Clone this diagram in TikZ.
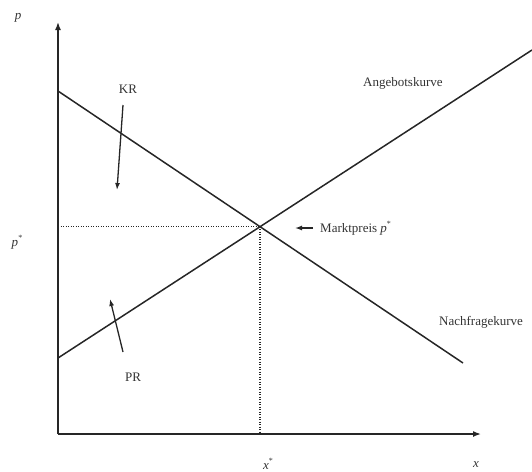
\documentclass[tikz,border=0pt]{standalone}
\usepackage{fontspec}
\setmainfont{Liberation Serif}
\usetikzlibrary{arrows.meta,intersections,calc}
\newcommand{\starsup}[1]{\textit{#1}\raisebox{0.45em}{\fontsize{8}{8}\selectfont *}}
\begin{document}
\begin{tikzpicture}[x=1pt,y=-1pt,
  curve/.style={line width=1.5pt,black!85},
  axis/.style={line width=1.5pt,black!85,-{Latex[length=8pt,width=6pt]}},
  guide/.style={line width=1.2pt,dash pattern=on 1.2pt off 1.3pt,black!85},
  pointer/.style={line width=1.3pt,black!85,-{Latex[length=7pt,width=5pt]}},
  lbl/.style={font=\fontsize{13}{15}\selectfont,text=black!80,inner sep=0pt}]
\useasboundingbox (0,0) rectangle (532,471);
% axes
\coordinate (O) at (58,434);
\coordinate (ytop) at (58,22);
\coordinate (xend) at (481,434);
\draw[axis] (O) -- (ytop);
\draw[axis] (O) -- (xend);
% curves
\coordinate (d1) at (58,91);
\coordinate (d2) at (463,363);
\coordinate (s1) at (58,358);
\coordinate (s2) at (532,50);
\draw[curve,name path=dem] (d1) -- (d2);
\draw[curve,name path=sup] (s1) -- (s2);
\path[name intersections={of=dem and sup,by=E}];
\coordinate (Ey) at (O |- E);
\coordinate (Ex) at (E |- O);
\draw[guide] (Ey) -- (E);
\draw[guide] (E) -- (Ex);
% labels
\node[lbl] (p) at (18,18) {\textit{p}};
\node[lbl] (x) at (476,465) {\textit{x}};
\node[lbl] (pstar) at (17,242) {\starsup{p}};
\node[lbl] (xstar) at (268,464) {\starsup{x}};
\node[lbl] (KR) at (128,89) {KR};
\node[lbl] (PR) at (133,377) {PR};
\node[lbl,anchor=west] (ang) at (363,83) {Angebotskurve};
\node[lbl,anchor=west] (nach) at (439,322) {Nachfragekurve};
\node[lbl,anchor=west] (mp) at (320,228) {Marktpreis \starsup{p}};
% pointers
\coordinate (kra) at (123,105);
\coordinate (krb) at (117,190);
\draw[pointer] (kra) -- (krb);
\coordinate (pra) at (123,352);
\coordinate (prb) at (110,299);
\draw[pointer] (pra) -- (prb);
\coordinate (mpa) at (313,228);
\coordinate (mpb) at (295,228);
\draw[pointer] (mpa) -- (mpb);
\end{tikzpicture}
\end{document}
